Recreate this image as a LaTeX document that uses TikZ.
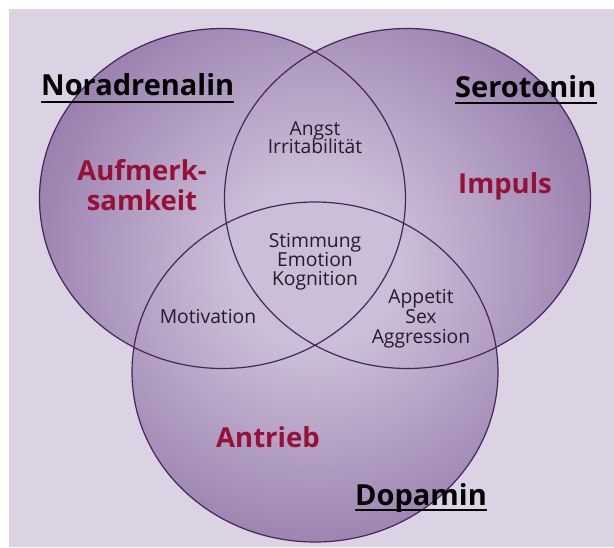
\documentclass[tikz,border=0pt]{standalone}
\usepackage{fontspec}
\setmainfont{Open Sans}
\definecolor{bgc}{RGB}{219,211,227}
\definecolor{vlight}{RGB}{204,190,216}
\definecolor{vmid}{RGB}{134,104,158}
\definecolor{vdark}{RGB}{88,54,114}
\definecolor{edge}{RGB}{68,38,90}
\definecolor{redt}{RGB}{150,16,56}
\definecolor{lblt}{RGB}{38,26,44}
\pgfdeclareradialshading{venn}{\pgfpoint{0bp}{0bp}}{color(0bp)=(vlight); color(7bp)=(vlight); color(31bp)=(vmid); color(50bp)=(vdark)}
\tikzset{
  hdr/.style={font=\fontsize{29}{31}\selectfont\bfseries, text=black, inner sep=0pt, anchor=base west},
  red/.style={font=\fontsize{27.5}{30}\selectfont\bfseries, text=redt, inner sep=0pt, anchor=base},
  lbl/.style={font=\fontsize{19.3}{20}\selectfont, text=lblt, inner sep=0pt, anchor=base},
  ring/.style={draw=edge, line width=1.2pt},
  uline/.style={draw=black, line width=1.8pt}
}
\begin{document}
\begin{tikzpicture}[x=1pt,y=-1pt]
\useasboundingbox (0,0) rectangle (614,547);
\fill[white] (0,0) rectangle (614,547);
\fill[bgc] (9,9) rectangle (614,547);
\coordinate (cL) at (222.5,198.5);
\coordinate (cR) at (407.5,198.5);
\coordinate (cB) at (315,372);
\begin{scope}
  \clip (cL) ellipse [x radius=183, y radius=170]
        (cR) ellipse [x radius=183, y radius=170]
        (cB) ellipse [x radius=183, y radius=170];
  \shade[shading=venn] (315,265) circle (300);
\end{scope}
\draw[ring] (cL) ellipse [x radius=183, y radius=170];
\draw[ring] (cR) ellipse [x radius=183, y radius=170];
\draw[ring] (cB) ellipse [x radius=183, y radius=170];
% headers
\node[hdr] (nor) at (41,95) {Noradrenalin};
\draw[uline] ([yshift=-7pt]nor.base west) -- ([yshift=-7pt]nor.base east);
\node[hdr] (ser) at (455,97) {Serotonin};
\draw[uline] ([yshift=-6pt]ser.base west) -- ([yshift=-6pt]ser.base east);
\node[hdr] (dop) at (355,505) {Dopamin};
\draw[uline] ([yshift=-5pt]dop.base west) -- ([yshift=-5pt]dop.base east);
% red
\node[red] (auf1) at (142,180) {Aufmerk-};
\node[red] (auf2) at (142,210) {samkeit};
\node[red] (imp) at (505,193) {Impuls};
\node[red] (ant) at (268,447) {Antrieb};
% labels
\node[lbl] (angst) at (315,135) {Angst};
\node[lbl] (irr) at (315,153) {Irritabilität};
\node[lbl] (sti) at (315,247) {Stimmung};
\node[lbl] (emo) at (315,266) {Emotion};
\node[lbl] (kog) at (315,285) {Kognition};
\node[lbl] (mot) at (208,323) {Motivation};
\node[lbl] (app) at (421,303) {Appetit};
\node[lbl] (sex) at (421,323) {Sex};
\node[lbl] (agg) at (421,343) {Aggression};
\end{tikzpicture}
\end{document}
